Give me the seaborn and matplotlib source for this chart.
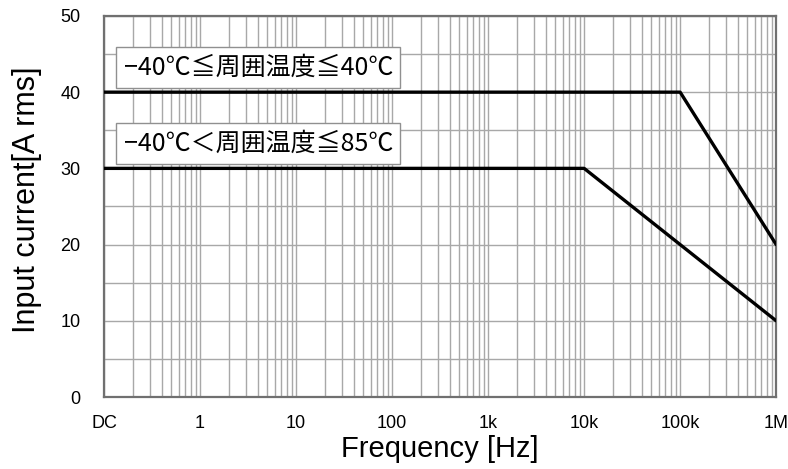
import numpy as np
import pandas as pd
import matplotlib
matplotlib.use("Agg")
import matplotlib.pyplot as plt
import seaborn as sns
from matplotlib.ticker import LogLocator, MultipleLocator, NullFormatter

# data
freq_40 = [0.1, 1e5, 1e6]
curr_40 = [40, 40, 20]
freq_85 = [0.1, 1e4, 1e6]
curr_85 = [30, 30, 10]
label_40 = "−40℃≦周囲温度≦40℃"
label_85 = "−40℃＜周囲温度≦85℃"
xtick_vals = [0.1, 1, 10, 100, 1e3, 1e4, 1e5, 1e6]
xtick_labels = ["DC", "1", "10", "100", "1k", "10k", "100k", "1M"]
ytick_vals = [0, 10, 20, 30, 40, 50]

df = pd.concat([
    pd.DataFrame({"f": freq_40, "i": curr_40, "range": label_40}),
    pd.DataFrame({"f": freq_85, "i": curr_85, "range": label_85}),
])

sns.set_style("white")
plt.rcParams["font.family"] = ["Liberation Sans", "DejaVu Sans"]
plt.rcParams["text.color"] = "black"
plt.rcParams["axes.labelcolor"] = "black"
plt.rcParams["xtick.color"] = "black"
plt.rcParams["ytick.color"] = "black"

fig = plt.figure(figsize=(7.88, 4.69), dpi=100)
ax = fig.add_axes([0.132, 0.1535, 0.853, 0.8125])

grid_c = "#a8a8a8"
spine_c = "#707070"

sns.lineplot(data=df, x="f", y="i", hue="range", palette=["black", "black"],
             linewidth=2.4, legend=False, ax=ax, zorder=3, sort=False)

ax.set_xscale("log")
ax.set_xlim(0.1, 1e6)
ax.set_ylim(0, 50)
ax.set_xticks(xtick_vals)
ax.set_xticklabels(xtick_labels)
ax.set_yticks(ytick_vals)
ax.xaxis.set_minor_locator(LogLocator(base=10, subs=np.arange(2, 10)))
ax.xaxis.set_minor_formatter(NullFormatter())
ax.yaxis.set_minor_locator(MultipleLocator(5))

ax.grid(True, which="both", color=grid_c, linewidth=1.0)
ax.set_axisbelow(True)
ax.tick_params(axis="both", which="major", direction="out", length=6,
               width=1.5, color=spine_c, labelsize=13)
ax.tick_params(axis="x", which="major", pad=7)
ax.tick_params(axis="y", which="major", pad=11)
ax.tick_params(axis="both", which="minor", length=0)
for s in ax.spines.values():
    s.set_color(spine_c)
    s.set_linewidth(1.6)

ax.set_xlabel("Frequency [Hz]", fontsize=21, labelpad=2)
ax.set_ylabel("Input current[A rms]", fontsize=22, labelpad=13)
ax.yaxis.label.set_y(0.518)

box = dict(boxstyle="square,pad=0.3", facecolor="white", edgecolor="#909090", linewidth=1.0)
cjk = ["Noto Sans CJK JP", "DejaVu Sans"]
ax.text(0.16, 43.2, label_40, fontsize=18, family=cjk, va="center", ha="left", bbox=box, zorder=4)
ax.text(0.16, 33.2, label_85, fontsize=18, family=cjk, va="center", ha="left", bbox=box, zorder=4)

fig.savefig("out.png", dpi=100)
